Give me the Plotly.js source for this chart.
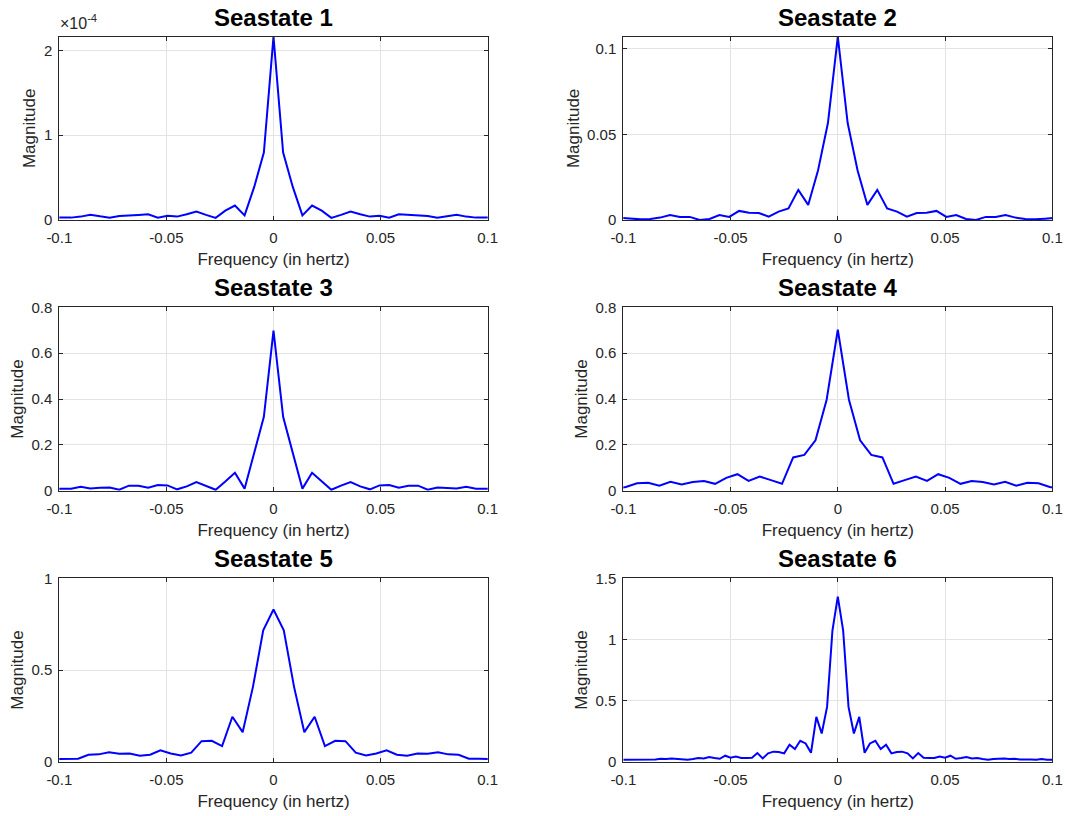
<!DOCTYPE html>
<html>
<head>
<meta charset="utf-8">
<script src="https://cdn.plot.ly/plotly-3.0.1.min.js"></script>
<style>html,body{margin:0;padding:0;background:#fff;}#chart{width:1065px;height:816px;}</style>
</head>
<body>
<div id="chart"></div>
<script>
// Panel titles
const titles = ["Seastate 1", "Seastate 2", "Seastate 3", "Seastate 4", "Seastate 5", "Seastate 6"];
// Frequency bin spacing (hertz) of each seastate's spectrum
const freqSteps = [0.0045, 0.0046, 0.0045, 0.0052, 0.0048, 0.0025];
// Magnitudes, left to right (symmetric two-sided spectra)
// Seastate 1 is in units of 1e-4 (axis shows x10^-4)
const mag1 = [0.03, 0.028, 0.028, 0.04, 0.063, 0.043, 0.028, 0.047, 0.05, 0.06, 0.067, 0.028, 0.05, 0.04, 0.067, 0.1, 0.06, 0.025, 0.11, 0.17, 0.055, 0.39, 0.795, 2.16, 0.795, 0.39, 0.055, 0.17, 0.11, 0.025, 0.06, 0.1, 0.067, 0.04, 0.05, 0.028, 0.067, 0.06, 0.05, 0.047, 0.028, 0.043, 0.063, 0.04, 0.028, 0.028, 0.03];
const mag2 = [0.0012, 0.0008, 0.0004, 0.0006, 0.0014, 0.0029, 0.0018, 0.0018, 0, 0.0006, 0.0029, 0.0018, 0.0053, 0.0043, 0.0041, 0.002, 0.0049, 0.0068, 0.0176, 0.0088, 0.029, 0.0566, 0.107, 0.0566, 0.029, 0.0088, 0.0176, 0.0068, 0.0049, 0.002, 0.0041, 0.0043, 0.0053, 0.0018, 0.0029, 0.0006, 0, 0.0018, 0.0018, 0.0029, 0.0014, 0.0006, 0.0004, 0.0008, 0.0012];
const mag3 = [0.009, 0.009, 0.009, 0.017, 0.01, 0.013, 0.014, 0.004, 0.022, 0.022, 0.013, 0.025, 0.023, 0.006, 0.019, 0.038, 0.022, 0.004, 0.04, 0.078, 0.009, 0.165, 0.322, 0.698, 0.322, 0.165, 0.009, 0.078, 0.04, 0.004, 0.022, 0.038, 0.019, 0.006, 0.023, 0.025, 0.013, 0.022, 0.022, 0.004, 0.014, 0.013, 0.01, 0.017, 0.009, 0.009, 0.009];
const mag4 = [0.01, 0.016, 0.032, 0.035, 0.022, 0.039, 0.027, 0.038, 0.042, 0.03, 0.056, 0.072, 0.043, 0.062, 0.046, 0.03, 0.145, 0.156, 0.22, 0.397, 0.702, 0.397, 0.22, 0.156, 0.145, 0.03, 0.046, 0.062, 0.043, 0.072, 0.056, 0.03, 0.042, 0.038, 0.027, 0.039, 0.022, 0.035, 0.032, 0.016, 0.01];
const mag5 = [0.014, 0.016, 0.016, 0.038, 0.04, 0.051, 0.043, 0.045, 0.033, 0.038, 0.062, 0.045, 0.034, 0.049, 0.112, 0.114, 0.085, 0.245, 0.161, 0.408, 0.716, 0.83, 0.716, 0.408, 0.161, 0.245, 0.085, 0.114, 0.112, 0.049, 0.034, 0.045, 0.062, 0.038, 0.033, 0.045, 0.043, 0.051, 0.04, 0.038, 0.016, 0.016, 0.014];
const mag6 = [0.016, 0.016, 0.022, 0.016, 0.019, 0.022, 0.019, 0.024, 0.022, 0.027, 0.024, 0.022, 0.016, 0.022, 0.03, 0.027, 0.038, 0.03, 0.024, 0.049, 0.033, 0.043, 0.03, 0.03, 0.033, 0.071, 0.027, 0.068, 0.082, 0.079, 0.068, 0.139, 0.103, 0.171, 0.149, 0.073, 0.367, 0.231, 0.448, 1.073, 1.35, 1.073, 0.448, 0.231, 0.367, 0.073, 0.149, 0.171, 0.103, 0.139, 0.068, 0.079, 0.082, 0.068, 0.027, 0.071, 0.033, 0.03, 0.03, 0.043, 0.033, 0.049, 0.024, 0.03, 0.038, 0.027, 0.03, 0.022, 0.016, 0.022, 0.024, 0.027, 0.022, 0.024, 0.019, 0.022, 0.019, 0.016, 0.022, 0.016, 0.016];
// Axis ticks
const xTickVals = [-0.1, -0.05, 0, 0.05, 0.1];
const xTickText = ["-0.1", "-0.05", "0", "0.05", "0.1"];
const yTickVals = [[0, 1, 2], [0, 0.05, 0.1], [0, 0.2, 0.4, 0.6, 0.8], [0, 0.2, 0.4, 0.6, 0.8], [0, 0.5, 1], [0, 0.5, 1, 1.5]];
const yTickText = [["0", "1", "2"], ["0", "0.05", "0.1"], ["0", "0.2", "0.4", "0.6", "0.8"], ["0", "0.2", "0.4", "0.6", "0.8"], ["0", "0.5", "1"], ["0", "0.5", "1", "1.5"]];
const yMax = [null, null, 0.8, 0.8, 1, 1.5];
const xLabel = "Frequency (in hertz)";
const yLabel = "Magnitude";
const exponentLabel = "\u00d710<sup>-4</sup>";

const mags = [mag1, mag2, mag3, mag4, mag5, mag6];
const W = 1065, H = 816;
const colPx = [[59.3, 487.7], [623.3, 1052.3]];
const rowPx = [[36.7, 220], [307.3, 490.7], [578.3, 761.7]];
const FONT = "Liberation Sans, Arial, Helvetica, sans-serif";
const AX = "#262626";

const traces = [];
const layout = {
  width: W, height: H,
  margin: {l: 0, r: 0, t: 0, b: 0},
  paper_bgcolor: "#ffffff", plot_bgcolor: "#ffffff",
  showlegend: false,
  font: {family: FONT, size: 15, color: AX},
  annotations: []
};

mags.forEach((m, i) => {
  const n = m.length;
  const c = (n - 1) / 2;
  const x = m.map((_, j) => (j - c) * freqSteps[i]);
  const s = i === 0 ? "" : String(i + 1);
  traces.push({
    type: "scatter", mode: "lines", x: x, y: m,
    xaxis: "x" + s, yaxis: "y" + s,
    line: {color: "#0000ff", width: 2},
    hoverinfo: "x+y"
  });
  const col = i % 2, row = Math.floor(i / 2);
  const [x0, x1] = colPx[col];
  const [y0, y1] = rowPx[row];
  const top = yMax[i] !== null ? yMax[i] : Math.max(...m);
  layout["xaxis" + s] = {
    domain: [x0 / W, x1 / W], anchor: "y" + s,
    range: [-0.1, 0.1], tickvals: xTickVals, ticktext: xTickText,
    showline: true, mirror: "ticks", linecolor: AX, linewidth: 1,
    ticks: "inside", ticklen: 4, tickcolor: AX,
    ticklabelstandoff: 4,
    showgrid: true, gridcolor: "#e3e3e3", gridwidth: 1, zeroline: false,
    tickfont: {family: FONT, size: 15, color: AX},
    title: {text: xLabel, font: {family: FONT, size: 17, color: AX}, standoff: 8},
    automargin: false, fixedrange: true
  };
  layout["yaxis" + s] = {
    domain: [1 - y1 / H, 1 - y0 / H], anchor: "x" + s,
    range: [0, top], tickvals: yTickVals[i], ticktext: yTickText[i],
    showline: true, mirror: "ticks", linecolor: AX, linewidth: 1,
    ticks: "inside", ticklen: 4, tickcolor: AX,
    ticklabelstandoff: 3,
    showgrid: true, gridcolor: "#e3e3e3", gridwidth: 1, zeroline: false,
    tickfont: {family: FONT, size: 15, color: AX},
    title: {text: yLabel, font: {family: FONT, size: 17, color: AX}, standoff: 3},
    automargin: false, fixedrange: true
  };
  layout.annotations.push({
    text: "<b>" + titles[i] + "</b>",
    xref: "paper", yref: "paper",
    x: (x0 + x1) / 2 / W, y: 1 - (y0 - 4) / H,
    xanchor: "center", yanchor: "bottom", showarrow: false,
    font: {family: FONT, size: 24, color: "#000000"}
  });
});

layout.annotations.push({
  text: exponentLabel,
  xref: "paper", yref: "paper",
  x: 58 / W, y: 1 - 34 / H, xanchor: "left", yanchor: "bottom",
  showarrow: false, font: {family: FONT, size: 16, color: AX}
});

Plotly.newPlot("chart", traces, layout, {staticPlot: true, displayModeBar: false});
</script>
</body>
</html>
